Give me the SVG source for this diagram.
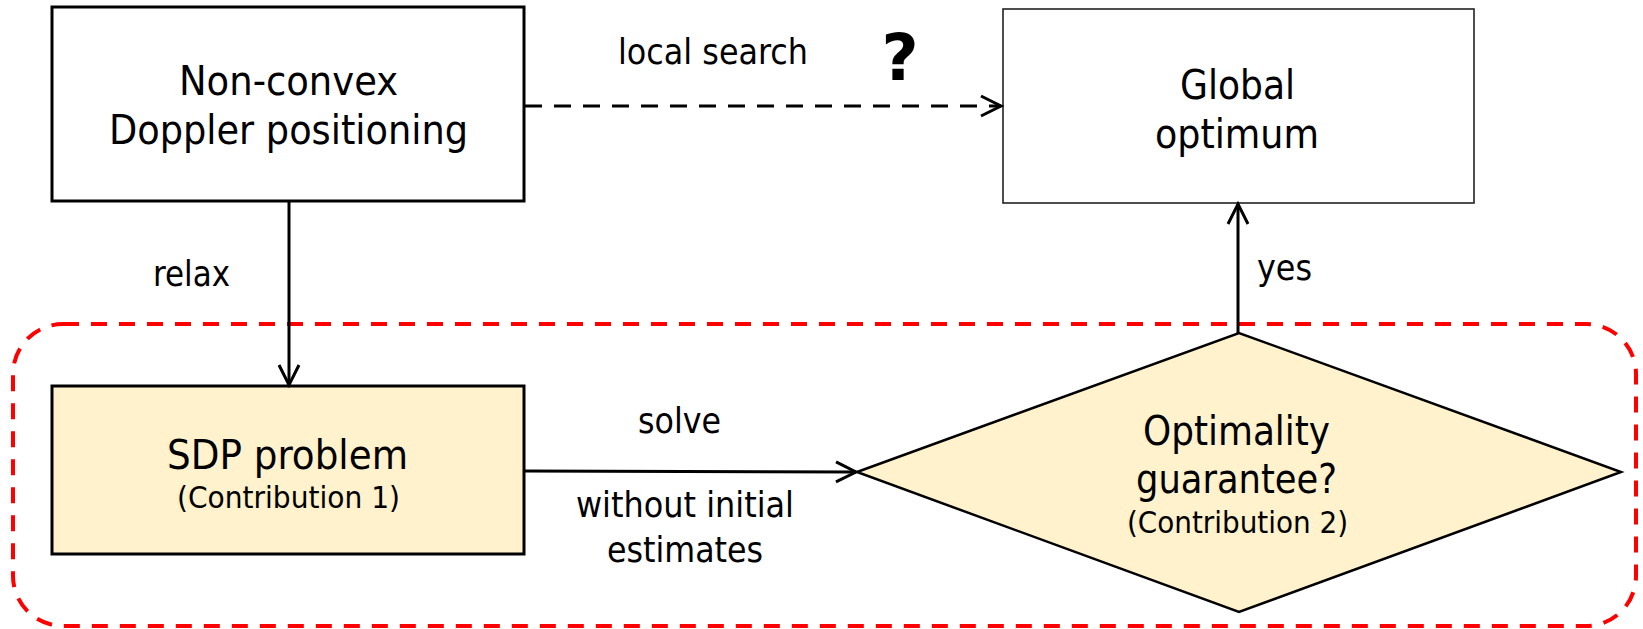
<svg xmlns="http://www.w3.org/2000/svg" width="1643" height="629" viewBox="0 0 1643 629">
  <style>
    .box { fill: #ffffff; stroke: #000000; stroke-width: 3; }
    .thin { stroke-width: 1.6; stroke: #222222; }
    .hl { fill: #fff2cc; }
    .node-text { font-family: "DejaVu Sans Condensed", "DejaVu Sans", sans-serif; font-size: 41px; fill: #000000; text-anchor: middle; }
    .sub-text { font-family: "DejaVu Sans Condensed", "DejaVu Sans", sans-serif; font-size: 31px; fill: #000000; text-anchor: middle; }
    .label { font-family: "DejaVu Sans Condensed", "DejaVu Sans", sans-serif; font-size: 35px; fill: #000000; text-anchor: middle; }
    .mark { font-family: "DejaVu Sans", sans-serif; font-size: 64px; font-weight: bold; fill: #000000; text-anchor: middle; }
    .edge { fill: none; stroke: #000000; stroke-width: 3; }
    .dashed { stroke-dasharray: 17 12; }
    .region { fill: none; stroke: #ff0000; stroke-width: 4; stroke-dasharray: 16 12; }
  </style>
  <defs>
    <marker id="open-arrow" markerUnits="userSpaceOnUse" markerWidth="26" markerHeight="26" refX="21" refY="12" orient="auto" overflow="visible">
      <path d="M1,2 L21,12 L1,22" fill="none" stroke="#000000" stroke-width="3" stroke-dasharray="none"/>
    </marker>
  </defs>

  <!-- contribution region -->
  <rect id="contribution-region" class="region" x="13" y="324" width="1623" height="302" rx="50" ry="50"/>

  <g id="node-nonconvex">
    <rect class="box" x="52" y="7" width="472" height="194"/>
    <text class="node-text" x="288.5" y="95" textLength="219" lengthAdjust="spacingAndGlyphs">Non-convex</text>
    <text class="node-text" x="288.5" y="144" textLength="359" lengthAdjust="spacingAndGlyphs">Doppler positioning</text>
  </g>

  <g id="node-global">
    <rect class="box thin" x="1003" y="9" width="471" height="194"/>
    <text class="node-text" x="1237.5" y="99" textLength="115" lengthAdjust="spacingAndGlyphs">Global</text>
    <text class="node-text" x="1237" y="148" textLength="164" lengthAdjust="spacingAndGlyphs">optimum</text>
  </g>

  <g id="node-sdp">
    <rect class="box hl" x="52" y="386" width="472" height="168"/>
    <text class="node-text" x="287.5" y="469" textLength="241" lengthAdjust="spacingAndGlyphs">SDP problem</text>
    <text class="sub-text" x="288.5" y="508" textLength="223" lengthAdjust="spacingAndGlyphs">(Contribution 1)</text>
  </g>

  <g id="node-guarantee">
    <polygon class="box hl" style="stroke-width:2.5" points="857,472 1239,333 1621,472 1239,612"/>
    <text class="node-text" x="1236.5" y="445" textLength="187" lengthAdjust="spacingAndGlyphs">Optimality</text>
    <text class="node-text" x="1236.5" y="493" textLength="201" lengthAdjust="spacingAndGlyphs">guarantee?</text>
    <text class="sub-text" x="1237.5" y="533" textLength="221" lengthAdjust="spacingAndGlyphs">(Contribution 2)</text>
  </g>

  <g id="connectors">
    <line class="edge dashed" x1="525" y1="106" x2="1001" y2="106" marker-end="url(#open-arrow)"/>
    <line class="edge" x1="289" y1="201" x2="289" y2="385" marker-end="url(#open-arrow)"/>
    <line class="edge" x1="524" y1="471" x2="856" y2="472" marker-end="url(#open-arrow)"/>
    <line class="edge" x1="1238" y1="333" x2="1238" y2="204" marker-end="url(#open-arrow)"/>
  </g>

  <g id="labels">
    <text class="label" x="713" y="64" textLength="190" lengthAdjust="spacingAndGlyphs">local search</text>
    <text class="mark" x="900" y="80">?</text>
    <text class="label" x="191.5" y="286" textLength="77" lengthAdjust="spacingAndGlyphs">relax</text>
    <text class="label" x="1284.5" y="280" textLength="55" lengthAdjust="spacingAndGlyphs">yes</text>
    <text class="label" x="679.5" y="433" textLength="83" lengthAdjust="spacingAndGlyphs">solve</text>
    <text class="label" x="685" y="517" textLength="218" lengthAdjust="spacingAndGlyphs">without initial</text>
    <text class="label" x="685" y="562" textLength="156" lengthAdjust="spacingAndGlyphs">estimates</text>
  </g>
</svg>
